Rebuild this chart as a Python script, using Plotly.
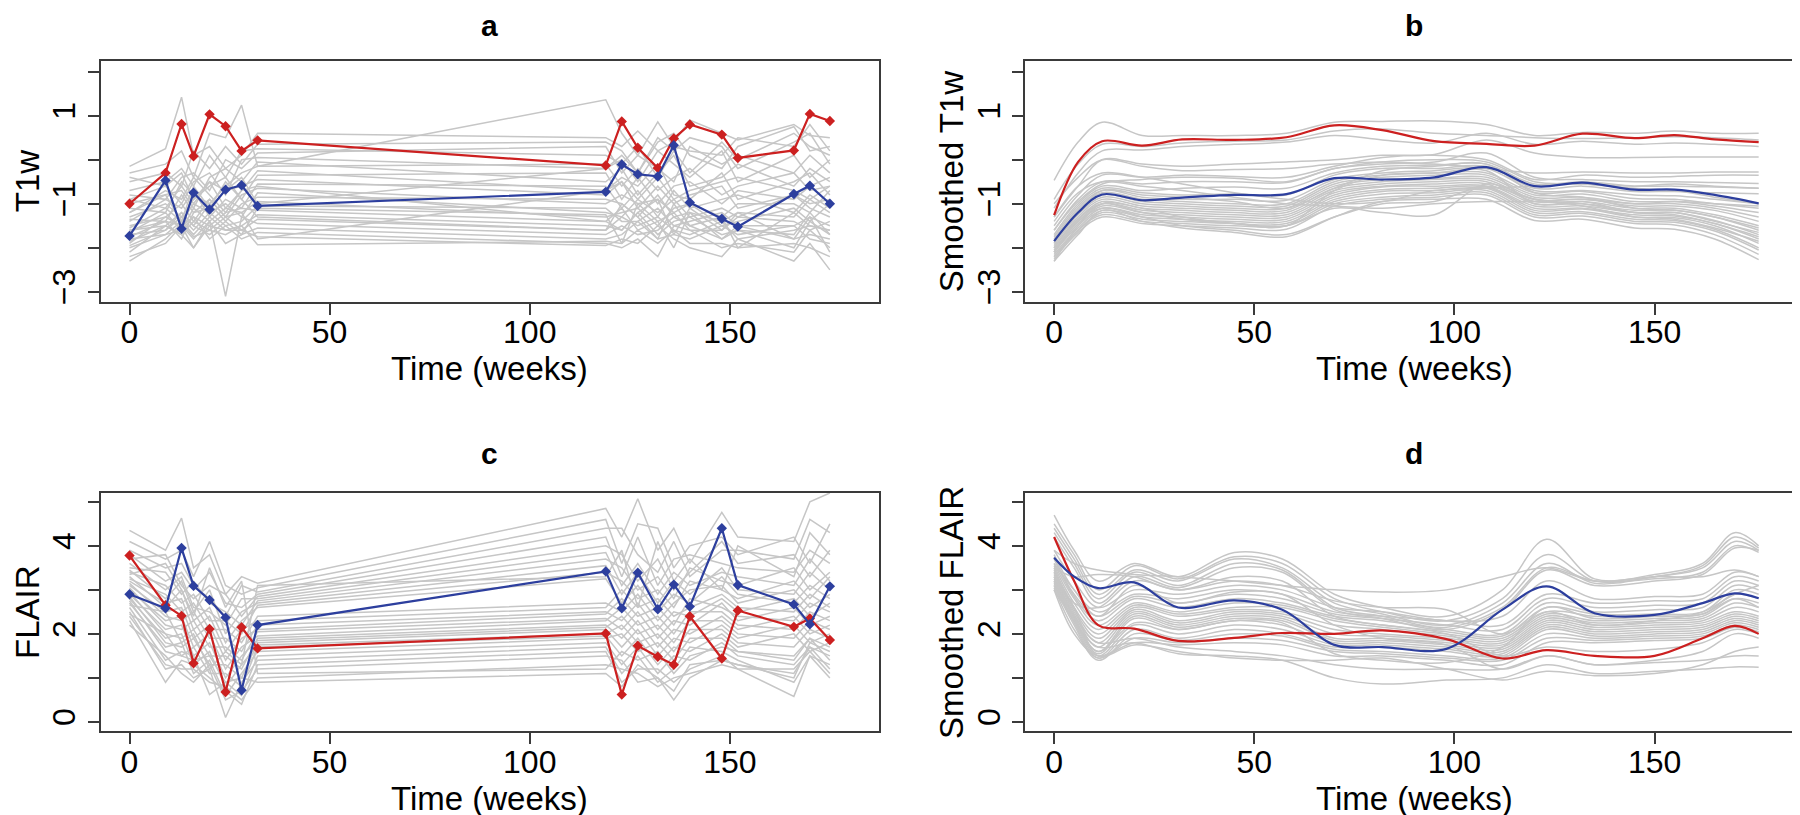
import plotly.graph_objects as go

# ---------------- data ----------------
weeks_raw = [0, 9, 13, 16, 20, 24, 28, 32, 119, 123, 127, 132, 136, 140, 148, 152, 166, 170, 175]

t1w_red = [-1.0, -0.30, 0.81, 0.08, 1.03, 0.76, 0.20, 0.44, -0.13, 0.87, 0.27, -0.19, 0.48, 0.80, 0.57, 0.04, 0.21, 1.04, 0.88]
t1w_blue = [-1.73, -0.47, -1.57, -0.75, -1.13, -0.68, -0.58, -1.05, -0.73, -0.11, -0.33, -0.38, 0.33, -0.97, -1.34, -1.52, -0.78, -0.59, -1.0]
t1w_gray = [
    [-0.15, 0.25, 1.42, 0.1, 0.3, -0.2, 0.1, 0.6, 0.5, 0.3, 0.65, 0.2, 0.4, 0.9, 0.6, 0.45, 0.8, 0.55, 0.5],
    [-0.3, -0.1, 0.2, -0.4, 0.6, 0.5, 1.24, -0.15, 1.36, 0.6, 0.1, 0.86, 0.3, 0.2, 0.1, 0.5, 0.3, 0.8, 0.2],
    [-0.5, -0.3, -0.6, 0.2, -0.2, 0.3, -0.1, 0.35, 0.4, 0.2, -0.3, 0.4, 0.6, 0.1, -0.2, 0.3, 0.75, 0.2, 0.3],
    [-0.7, -0.5, -0.2, -0.6, 0.1, -0.4, 0.2, 0.25, 0.1, -0.1, 0.3, -0.4, 0.2, 0.5, 0.3, -0.2, 0.4, 0.6, -0.1],
    [-0.8, -0.9, -0.4, -0.3, -0.7, 0.0, -0.2, 0.15, 0.3, -0.3, 0.1, -0.2, -0.5, 0.3, -0.1, 0.1, -0.3, 0.1, -0.3],
    [-0.9, -0.6, -1.0, -0.5, -0.3, -0.8, 0.0, 0.05, -0.2, 0.0, -0.5, 0.2, -0.1, -0.4, 0.2, -0.5, 0.1, -0.4, 0.0],
    [-1.0, -0.8, -0.7, -1.1, -0.4, -0.2, -0.5, -0.05, -0.5, -0.2, -0.8, -0.3, 0.1, -0.6, -0.4, -0.1, -0.6, -0.2, -0.5],
    [-1.1, -1.2, -0.5, -0.8, -1.0, -0.6, -0.3, -0.15, -0.1, -0.6, -0.2, -0.7, -0.4, -0.2, -0.8, -0.6, -0.3, -0.7, -0.6],
    [-1.2, -0.7, -0.9, -0.4, -0.8, -1.2, -0.7, -0.25, -0.7, -0.4, -0.6, -0.1, -0.8, -0.9, -0.3, -0.9, -0.5, -0.3, -0.8],
    [-1.3, -1.0, -1.3, -0.9, -0.6, -0.4, -0.9, -0.35, -0.3, -0.9, -0.4, -1.0, -0.6, -0.5, -1.0, -0.7, -0.9, -0.6, -0.4],
    [-1.35, -1.4, -0.8, -1.2, -1.1, -0.7, -0.6, -0.45, -0.8, -0.5, -1.1, -0.6, -1.0, -0.8, -0.6, -1.1, -0.8, -1.0, -0.9],
    [-1.4, -0.9, -1.1, -0.7, -1.3, -0.9, -1.1, -0.55, -0.6, -1.1, -0.7, -1.3, -0.7, -1.1, -0.9, -0.8, -1.2, -0.8, -1.1],
    [-1.5, -1.3, -1.0, -1.4, -0.9, -1.3, -0.8, -0.65, -1.0, -0.8, -1.0, -0.9, -1.2, -1.0, -1.3, -1.0, -1.0, -1.2, -0.7],
    [-1.55, -1.1, -1.4, -1.0, -1.2, -1.0, -1.3, -0.75, -1.2, -1.3, -0.9, -1.2, -0.9, -1.3, -1.1, -1.3, -0.8, -1.1, -1.3],
    [-1.6, -1.5, -1.2, -1.5, -1.0, -1.4, -1.0, -0.85, -0.9, -1.0, -1.3, -0.8, -1.3, -1.2, -1.4, -1.2, -1.3, -0.9, -1.2],
    [-1.65, -1.2, -1.6, -1.1, -1.4, -1.1, -1.2, -0.95, -1.3, -1.2, -1.1, -1.5, -1.1, -1.0, -1.5, -1.4, -1.1, -1.4, -1.0],
    [-1.7, -1.6, -1.3, -1.6, -1.2, -1.5, -1.4, -1.05, -1.1, -1.4, -1.4, -1.1, -1.5, -1.4, -1.2, -1.5, -1.5, -1.3, -1.5],
    [-1.75, -1.4, -1.5, -1.3, -1.5, -1.2, -1.1, -1.15, -1.4, -1.1, -1.6, -1.4, -1.2, -1.6, -1.6, -1.3, -1.4, -1.6, -1.4],
    [-1.8, -1.7, -1.4, -1.7, -1.3, -1.6, -1.5, -1.25, -1.5, -1.6, -1.2, -1.7, -1.4, -1.3, -1.7, -1.6, -1.7, -1.2, -1.7],
    [-1.85, -1.5, -1.7, -1.4, -1.6, -1.3, -1.6, -1.35, -1.6, -1.3, -1.5, -1.3, -1.6, -1.7, -1.4, -1.8, -1.6, -1.5, -1.6],
    [-1.9, -1.3, -1.5, -1.8, -1.4, -3.1, -1.3, -1.45, -1.7, -1.5, -1.7, -1.6, -1.3, -1.5, -1.8, -1.5, -1.8, -1.7, -1.8],
    [-1.95, -1.6, -1.2, -1.5, -1.7, -1.4, -1.7, -1.55, -1.8, -1.7, -1.4, -1.8, -1.7, -1.8, -1.5, -1.7, -1.5, -1.8, -1.9],
    [-2.0, -1.7, -1.6, -1.3, -1.8, -1.5, -1.8, -1.65, -1.9, -2.0, -1.8, -2.2, -1.5, -1.6, -2.0, -1.9, -2.1, -1.6, -2.0],
    [-2.1, -1.5, -1.7, -2.0, -1.5, -1.6, -1.6, -1.75, -1.95, -1.8, -1.9, -1.5, -1.8, -2.0, -2.2, -1.8, -2.3, -1.9, -2.5],
    [-2.3, -1.8, -1.45, -1.75, -1.6, -1.7, -1.5, -1.93, -1.85, -1.9, -1.6, -1.9, -1.6, -1.9, -1.9, -2.0, -1.9, -2.0, -2.2],
    [-0.4, -0.6, -0.3, -0.9, -0.5, -0.7, -0.4, -1.0, -0.2, 0.1, -0.3, 0.5, 0.2, -0.3, 0.4, 0.0, 0.6, 0.3, 0.1],
    [-1.2, -0.8, -1.4, -0.6, -1.1, -0.5, -0.9, -1.3, -1.6, -1.0, -1.3, -1.8, -1.0, -1.5, -1.3, -2.0, -1.2, -1.5, -1.6],
    [-0.9, -1.1, -0.6, -1.0, -0.5, -1.1, -0.7, -0.6, -1.4, -1.6, -1.2, -0.9, -1.7, -1.1, -1.6, -1.2, -1.8, -1.3, -2.1],
    [-1.6, -1.4, -1.8, -1.2, -0.9, -1.3, -1.2, -1.8, -0.7, -0.5, -0.9, -0.4, -0.9, -0.7, -0.5, -0.4, -0.7, -0.9, -0.6],
    [-2.2, -1.9, -1.5, -2.0, -1.4, -1.9, -1.7, -1.1, -1.25, -1.9, -1.0, -1.4, -2.0, -1.2, -1.8, -1.6, -2.0, -1.4, -1.7],
]

flair_red = [3.78, 2.65, 2.41, 1.33, 2.11, 0.68, 2.15, 1.67, 2.01, 0.62, 1.73, 1.48, 1.30, 2.40, 1.44, 2.53, 2.16, 2.35, 1.86]
flair_blue = [2.90, 2.58, 3.95, 3.09, 2.77, 2.37, 0.72, 2.20, 3.42, 2.58, 3.39, 2.56, 3.12, 2.62, 4.40, 3.11, 2.67, 2.22, 3.08]
flair_gray = [
    [4.35, 3.9, 4.63, 3.5, 3.8, 2.9, 3.3, 3.15, 4.85, 4.2, 5.07, 3.9, 4.4, 3.6, 4.76, 4.2, 4.1, 5.0, 5.2],
    [4.1, 3.7, 3.9, 3.3, 4.1, 3.1, 2.9, 3.05, 4.6, 3.6, 4.5, 4.4, 3.5, 4.0, 4.2, 3.8, 4.2, 3.6, 4.5],
    [3.9, 3.5, 3.6, 3.1, 2.8, 2.4, 3.1, 2.95, 4.4, 4.4, 3.8, 3.4, 4.1, 3.3, 3.9, 3.9, 3.7, 4.6, 4.3],
    [3.8, 3.2, 3.4, 3.0, 3.4, 2.7, 2.6, 2.9, 4.2, 3.3, 4.2, 3.1, 3.7, 3.8, 3.6, 3.5, 3.4, 3.9, 3.6],
    [3.7, 3.8, 3.1, 2.8, 3.1, 2.9, 2.4, 2.85, 4.0, 3.8, 3.2, 3.7, 3.0, 3.4, 4.1, 3.6, 3.8, 3.3, 3.9],
    [3.6, 3.0, 3.3, 2.6, 2.5, 2.2, 2.8, 2.8, 3.85, 3.1, 3.6, 2.9, 3.4, 3.1, 3.4, 3.3, 3.1, 3.7, 3.2],
    [3.5, 3.4, 2.9, 3.2, 2.7, 2.5, 2.2, 2.75, 3.7, 3.5, 3.0, 3.3, 2.8, 3.5, 3.2, 3.1, 3.5, 3.0, 3.4],
    [3.45, 2.8, 3.2, 2.5, 3.0, 2.0, 2.5, 2.7, 3.55, 2.9, 3.4, 2.7, 3.2, 2.9, 3.5, 3.0, 2.9, 3.4, 3.0],
    [3.4, 3.1, 2.7, 2.9, 2.3, 2.3, 2.0, 2.65, 3.4, 3.2, 2.8, 3.0, 2.6, 3.2, 3.0, 2.8, 3.2, 2.8, 3.3],
    [3.3, 2.6, 3.0, 2.3, 2.6, 1.8, 2.3, 2.6, 3.25, 2.7, 3.1, 2.5, 2.9, 2.7, 3.3, 2.9, 2.7, 3.1, 2.8],
    [3.25, 2.9, 2.5, 2.7, 2.1, 2.1, 1.8, 2.4, 2.7, 2.5, 2.9, 2.3, 2.7, 3.0, 3.1, 2.7, 3.0, 2.6, 2.9],
    [3.2, 2.7, 2.8, 2.1, 2.4, 1.6, 2.1, 2.3, 2.6, 3.0, 2.6, 2.8, 2.4, 2.6, 2.9, 2.6, 2.5, 2.9, 2.6],
    [3.15, 2.4, 2.3, 2.5, 1.9, 1.9, 1.6, 2.2, 2.5, 2.3, 2.7, 2.1, 2.5, 2.4, 2.8, 2.5, 2.8, 2.4, 2.7],
    [3.1, 2.5, 2.6, 1.9, 2.2, 1.4, 1.9, 2.1, 2.45, 2.8, 2.4, 2.6, 2.2, 2.8, 2.6, 2.4, 2.3, 2.7, 2.5],
    [3.05, 2.2, 2.1, 2.3, 1.7, 1.7, 1.4, 2.05, 2.35, 2.1, 2.5, 1.9, 2.3, 2.2, 2.7, 2.3, 2.6, 2.2, 2.4],
    [3.0, 2.3, 2.4, 1.7, 2.0, 1.2, 1.7, 1.95, 2.3, 2.6, 2.2, 2.4, 2.0, 2.5, 2.5, 2.2, 2.1, 2.5, 2.3],
    [2.95, 2.0, 1.9, 2.1, 1.5, 1.5, 1.2, 1.9, 2.2, 1.9, 2.3, 1.7, 2.1, 2.0, 2.4, 2.1, 2.4, 2.0, 2.2],
    [2.9, 2.1, 2.2, 1.5, 1.8, 1.0, 1.5, 1.85, 2.15, 2.4, 2.0, 2.2, 1.8, 2.3, 2.3, 2.0, 1.9, 2.3, 2.1],
    [2.85, 1.8, 1.7, 1.9, 1.3, 1.3, 1.0, 1.8, 2.1, 1.7, 2.1, 1.5, 1.9, 1.8, 2.2, 1.9, 2.2, 1.8, 2.0],
    [2.8, 1.9, 2.0, 1.3, 1.6, 0.8, 1.3, 1.75, 2.0, 2.2, 1.8, 2.0, 1.6, 2.1, 2.1, 1.8, 1.7, 2.1, 1.9],
    [2.75, 1.6, 1.5, 1.7, 1.1, 1.1, 0.8, 1.7, 1.95, 1.5, 1.9, 1.3, 1.7, 1.6, 2.0, 1.7, 2.0, 1.6, 1.8],
    [2.7, 1.7, 1.8, 1.1, 1.4, 0.6, 1.1, 1.6, 1.9, 2.0, 1.6, 1.8, 1.4, 1.9, 1.9, 1.6, 1.5, 1.9, 1.7],
    [2.6, 1.4, 1.6, 1.5, 0.62, 0.9, 0.6, 1.5, 1.8, 1.3, 1.7, 1.1, 1.5, 1.4, 1.8, 1.5, 1.3, 1.7, 1.5],
    [2.5, 1.2, 1.3, 1.0, 1.2, 0.1, 0.9, 1.4, 1.7, 1.1, 1.5, 0.9, 1.2, 1.7, 1.6, 1.4, 0.9, 1.5, 1.3],
    [2.3, 0.9, 1.4, 1.3, 1.0, 0.7, 0.4, 1.3, 1.6, 0.9, 1.2, 1.2, 0.9, 1.2, 1.5, 1.2, 0.58, 1.5, 1.0],
    [2.2, 1.5, 1.1, 0.9, 1.3, 0.5, 0.7, 1.2, 1.5, 1.4, 0.9, 1.0, 0.5, 1.0, 1.4, 1.3, 1.1, 1.7, 1.2],
    [2.4, 1.3, 1.2, 1.2, 0.9, 0.8, 0.5, 1.0, 1.3, 1.2, 1.1, 0.8, 1.0, 1.1, 1.3, 1.2, 1.2, 1.6, 1.1],
    [2.45, 2.0, 1.5, 1.4, 1.5, 0.9, 1.0, 0.9, 1.1, 0.8, 1.3, 1.0, 0.7, 1.3, 1.4, 1.3, 1.0, 1.8, 1.6],
    [3.35, 3.6, 3.0, 2.4, 3.5, 2.6, 3.2, 1.1, 1.2, 1.6, 1.4, 1.6, 1.1, 1.5, 1.7, 1.6, 1.4, 1.9, 1.4],
    [2.65, 2.5, 1.8, 2.0, 1.2, 1.6, 1.3, 3.1, 3.3, 3.9, 2.6, 4.1, 3.2, 3.7, 3.0, 4.0, 3.3, 4.3, 3.8],
]

weeks_smooth_t1w = [0, 6, 12, 22, 32, 45, 58, 70, 82, 95, 108, 120, 132, 145, 155, 165, 176]
st1w_red = [-1.26, -0.05, 0.42, 0.32, 0.46, 0.45, 0.51, 0.78, 0.67, 0.42, 0.36, 0.32, 0.59, 0.49, 0.56, 0.46, 0.40]
st1w_blue = [-1.85, -1.2, -0.79, -0.92, -0.86, -0.80, -0.78, -0.42, -0.45, -0.40, -0.17, -0.60, -0.52, -0.68, -0.68, -0.80, -0.99]
st1w_gray = [
    [-0.47, 0.4, 0.85, 0.55, 0.55, 0.55, 0.6, 0.85, 0.87, 0.88, 0.8, 0.55, 0.62, 0.6, 0.65, 0.6, 0.6],
    [-0.9, -0.1, 0.35, 0.3, 0.38, 0.42, 0.45, 0.65, 0.7, 0.6, 0.55, 0.5, 0.48, 0.5, 0.52, 0.5, 0.45],
    [-1.1, -0.3, 0.2, 0.22, 0.3, 0.35, 0.40, 0.55, 0.45, 0.38, 0.6, 0.35, 0.42, 0.35, 0.38, 0.35, 0.3],
    [-1.3, -0.6, 0.0, -0.1, -0.15, -0.1, -0.05, 0.0, 0.1, 0.12, 0.45, 0.15, 0.05, 0.05, 0.06, 0.06, 0.06],
    [-1.0, -0.4, 0.0, -0.15, -0.25, -0.22, -0.2, -0.1, -0.05, -0.1, -0.2, -0.3, -0.28, -0.3, -0.3, -0.28, -0.28],
    [-1.5, -0.8, -0.35, -0.4, -0.35, -0.38, -0.4, -0.15, 0.05, 0.1, 0.0, -0.45, -0.35, -0.4, -0.38, -0.35, -0.35],
    [-1.6, -0.9, -0.5, -0.55, -0.5, -0.5, -0.52, -0.2, -0.1, -0.05, 0.15, -0.4, -0.45, -0.5, -0.5, -0.52, -0.54],
    [-1.7, -1.0, -0.6, -0.7, -0.65, -0.62, -0.65, -0.3, -0.15, -0.12, -0.1, -0.55, -0.5, -0.6, -0.6, -0.62, -0.65],
    [-1.75, -1.05, -0.65, -0.75, -0.8, -0.78, -0.8, -0.35, -0.2, -0.2, -0.15, -0.65, -0.6, -0.72, -0.72, -0.75, -0.77],
    [-1.8, -1.1, -0.7, -0.85, -0.9, -0.9, -0.92, -0.45, -0.3, -0.25, -0.2, -0.7, -0.7, -0.8, -0.82, -0.9, -1.0],
    [-1.85, -1.15, -0.75, -0.9, -0.95, -1.0, -1.0, -0.5, -0.35, -0.3, -0.3, -0.75, -0.72, -0.88, -0.9, -1.0, -1.1],
    [-1.9, -1.2, -0.8, -0.95, -1.0, -1.05, -1.05, -0.55, -0.4, -0.35, -0.35, -0.8, -0.78, -0.95, -0.95, -1.05, -1.2],
    [-1.95, -1.25, -0.85, -1.0, -1.05, -1.1, -1.1, -0.6, -0.45, -0.42, -0.4, -0.85, -0.85, -1.0, -1.0, -1.1, -1.3],
    [-2.0, -1.3, -0.9, -1.05, -1.1, -1.15, -1.15, -0.65, -0.5, -0.45, -0.45, -0.9, -0.9, -1.05, -1.05, -1.15, -1.4],
    [-2.0, -1.35, -0.95, -1.1, -1.15, -1.2, -1.2, -0.7, -0.55, -0.5, -0.5, -0.95, -0.95, -1.1, -1.1, -1.25, -1.5],
    [-2.05, -1.4, -1.0, -1.15, -1.2, -1.25, -1.25, -0.75, -0.6, -0.55, -0.55, -1.0, -1.0, -1.15, -1.15, -1.3, -1.6],
    [-2.1, -1.45, -1.05, -1.2, -1.25, -1.3, -1.3, -0.8, -0.62, -0.6, -0.6, -1.05, -1.05, -1.2, -1.2, -1.38, -1.7],
    [-2.1, -1.5, -1.1, -1.25, -1.3, -1.35, -1.35, -0.85, -0.68, -0.65, -0.62, -1.1, -1.1, -1.25, -1.28, -1.45, -1.8],
    [-2.15, -1.55, -1.15, -1.3, -1.35, -1.4, -1.4, -0.9, -0.72, -0.7, -0.65, -1.15, -1.12, -1.3, -1.32, -1.5, -1.9],
    [-2.2, -1.6, -1.2, -1.35, -1.4, -1.45, -1.45, -0.95, -0.78, -0.75, -0.7, -1.2, -1.18, -1.35, -1.38, -1.58, -2.0],
    [-2.2, -1.6, -1.25, -1.4, -1.45, -1.5, -1.5, -1.0, -0.85, -0.8, -0.75, -1.25, -1.22, -1.4, -1.42, -1.62, -2.05],
    [-2.25, -1.65, -1.3, -1.45, -1.5, -1.55, -1.58, -1.05, -0.9, -0.85, -0.8, -1.3, -1.28, -1.45, -1.48, -1.7, -2.15],
    [-2.3, -1.7, -1.15, -1.4, -1.55, -1.65, -1.75, -1.3, -0.95, -0.9, -0.9, -1.38, -1.35, -1.55, -1.58, -1.8, -2.27],
    [-2.31, -1.5, -1.0, -1.1, -1.3, -1.45, -1.5, -1.1, -1.2, -1.25, -0.55, -0.9, -1.0, -1.2, -1.25, -1.45, -1.75],
    [-1.3, -0.6, -0.3, -0.4, -0.55, -0.75, -0.9, -1.0, -0.95, -0.7, -0.65, -0.6, -0.55, -0.6, -0.55, -0.6, -0.65],
    [-1.4, -0.75, -0.5, -0.6, -0.7, -0.85, -1.0, -1.05, -1.1, -1.0, -0.95, -0.95, -0.9, -1.0, -0.95, -1.0, -1.05],
    [-2.1, -1.4, -1.1, -1.3, -1.5, -1.6, -1.7, -1.3, -1.0, -0.95, -0.6, -0.9, -1.05, -1.3, -1.35, -1.55, -1.85],
    [-1.6, -0.95, -0.55, -0.45, -0.4, -0.42, -0.5, -0.2, -0.05, 0.0, -0.05, -0.5, -0.55, -0.65, -0.7, -0.85, -1.0],
    [-1.9, -1.2, -0.7, -0.8, -0.85, -0.95, -1.1, -0.65, -0.25, -0.15, -0.1, -0.75, -0.85, -1.1, -1.15, -1.3, -1.55],
    [-2.0, -1.35, -1.0, -1.2, -1.35, -1.45, -1.5, -0.7, -0.35, -0.3, -0.25, -1.0, -0.95, -1.2, -1.2, -1.4, -1.65],
]

weeks_smooth_flair = [0, 5, 11, 20, 31, 45, 57, 70, 82, 98, 112, 123, 135, 150, 162, 170, 176]
sflair_red = [4.2, 3.2, 2.2, 2.12, 1.84, 1.91, 2.02, 2.0, 2.08, 1.88, 1.44, 1.63, 1.50, 1.50, 1.9, 2.18, 2.0]
sflair_blue = [3.73, 3.3, 3.04, 3.17, 2.6, 2.76, 2.55, 1.75, 1.70, 1.66, 2.55, 3.08, 2.47, 2.43, 2.7, 2.92, 2.81]
sflair_gray = [
    [4.7, 3.9, 3.2, 3.6, 3.3, 3.85, 3.7, 2.9, 2.6, 2.4, 3.0, 4.15, 3.25, 3.35, 3.6, 4.3, 4.0],
    [4.5, 3.8, 3.0, 3.55, 3.25, 3.75, 3.6, 2.8, 2.5, 2.3, 2.8, 3.8, 3.2, 3.3, 3.55, 4.2, 3.95],
    [4.4, 3.7, 2.9, 3.45, 3.2, 3.7, 3.5, 2.7, 2.45, 2.2, 2.7, 3.6, 3.15, 3.3, 3.5, 4.1, 3.9],
    [4.3, 3.6, 2.8, 3.4, 3.1, 3.6, 3.45, 2.6, 2.4, 2.15, 2.6, 3.5, 3.2, 3.25, 3.4, 4.0, 3.85],
    [4.2, 3.5, 2.7, 3.3, 3.05, 3.5, 3.4, 2.55, 2.35, 2.1, 2.55, 3.45, 3.1, 3.2, 3.35, 3.95, 3.9],
    [3.9, 3.6, 3.45, 3.35, 3.3, 3.2, 3.1, 3.0, 2.95, 3.0, 3.3, 3.5, 3.2, 3.3, 3.3, 3.45, 3.3],
    [3.9, 3.2, 2.6, 3.0, 2.9, 3.1, 3.0, 2.6, 2.5, 2.3, 2.4, 3.2, 2.8, 2.85, 2.9, 3.4, 3.3],
    [3.8, 3.0, 2.5, 2.9, 2.8, 3.0, 2.9, 2.5, 2.4, 2.3, 2.2, 2.9, 2.7, 2.75, 2.8, 3.3, 3.2],
    [3.75, 2.9, 2.4, 2.85, 2.7, 2.9, 2.8, 2.45, 2.35, 2.2, 2.1, 2.8, 2.6, 2.65, 2.7, 3.2, 3.1],
    [3.7, 2.85, 2.3, 2.8, 2.6, 2.8, 2.7, 2.4, 2.3, 2.1, 2.0, 2.7, 2.5, 2.55, 2.6, 3.1, 3.0],
    [3.6, 2.8, 2.2, 2.7, 2.5, 2.7, 2.65, 2.35, 2.2, 2.05, 1.95, 2.6, 2.45, 2.45, 2.5, 3.0, 2.9],
    [3.55, 2.7, 2.1, 2.65, 2.45, 2.6, 2.6, 2.3, 2.15, 2.0, 1.9, 2.5, 2.4, 2.4, 2.45, 2.9, 2.8],
    [3.5, 2.6, 2.0, 2.6, 2.4, 2.55, 2.5, 2.2, 2.1, 1.95, 1.85, 2.45, 2.3, 2.35, 2.4, 2.8, 2.7],
    [3.45, 2.55, 1.9, 2.55, 2.3, 2.5, 2.45, 2.1, 2.0, 1.9, 1.8, 2.4, 2.25, 2.3, 2.35, 2.7, 2.6],
    [3.4, 2.5, 1.8, 2.5, 2.25, 2.45, 2.4, 2.0, 1.95, 1.85, 1.75, 2.35, 2.2, 2.25, 2.3, 2.6, 2.5],
    [3.35, 2.45, 1.7, 2.45, 2.2, 2.4, 2.35, 1.9, 1.9, 1.8, 1.7, 2.3, 2.15, 2.2, 2.25, 2.5, 2.4],
    [3.3, 2.4, 1.6, 2.4, 2.15, 2.35, 2.3, 1.85, 1.85, 1.75, 1.65, 2.25, 2.1, 2.15, 2.2, 2.45, 2.35],
    [3.25, 2.35, 1.55, 2.35, 2.1, 2.3, 2.2, 1.8, 1.8, 1.7, 1.6, 2.2, 2.05, 2.1, 2.15, 2.4, 2.3],
    [3.2, 2.3, 1.5, 2.2, 2.0, 2.2, 2.1, 1.75, 1.75, 1.65, 1.55, 2.15, 2.0, 2.05, 2.1, 2.35, 2.25],
    [3.15, 2.25, 1.45, 2.1, 1.9, 2.1, 2.0, 1.7, 1.7, 1.6, 1.5, 2.1, 1.95, 2.0, 2.05, 2.3, 2.2],
    [3.1, 2.2, 1.4, 2.0, 1.85, 2.0, 1.95, 1.65, 1.6, 1.5, 1.45, 2.0, 1.9, 1.95, 2.0, 2.25, 2.15],
    [3.05, 2.1, 1.45, 1.9, 1.8, 1.9, 1.85, 1.6, 1.55, 1.45, 1.4, 1.9, 1.85, 1.9, 1.95, 2.2, 2.1],
    [3.0, 2.0, 1.5, 1.8, 1.75, 1.8, 1.75, 1.5, 1.5, 1.4, 1.3, 1.8, 1.8, 1.85, 1.9, 2.15, 2.05],
    [3.2, 2.4, 1.8, 1.9, 1.7, 1.6, 1.5, 1.3, 1.2, 1.2, 1.2, 1.5, 1.3, 1.35, 1.4, 1.5, 1.5],
    [3.1, 2.3, 1.7, 1.8, 1.55, 1.5, 1.4, 1.0, 0.86, 0.95, 1.0, 1.3, 1.1, 1.15, 1.2, 1.25, 1.24],
    [3.4, 2.6, 1.5, 1.75, 1.6, 1.45, 1.4, 1.4, 1.45, 1.2, 0.95, 1.15, 1.05, 1.1, 1.3, 1.6, 1.7],
    [3.5, 3.3, 3.35, 3.3, 3.0, 3.3, 3.2, 2.4, 2.2, 2.0, 1.5, 1.7, 1.6, 1.65, 1.8, 2.1, 2.0],
    [3.6, 3.0, 2.4, 3.1, 2.7, 2.95, 2.9, 2.2, 1.9, 1.75, 1.2, 1.5, 1.3, 1.4, 1.6, 2.0, 1.9],
    [3.3, 2.7, 2.6, 3.2, 3.0, 3.2, 3.1, 2.75, 2.6, 2.55, 2.0, 2.5, 2.2, 2.3, 2.5, 2.9, 3.1],
    [3.0, 2.3, 1.6, 2.25, 2.1, 2.3, 2.25, 1.55, 1.4, 1.35, 1.7, 2.6, 2.35, 2.4, 2.45, 2.8, 2.6],
]

x_ticks = [0, 50, 100, 150]
t1w_ticks = [-3, -2, -1, 0, 1, 2]
t1w_ticktext = ["\u22123", "", "\u22121", "", "1", ""]
flair_ticks = [0, 1, 2, 3, 4, 5]
flair_ticktext = ["0", "", "2", "", "4", ""]

# ---------------- styling ----------------
W, H = 1800, 815
FONT = "Liberation Sans, Arial, Helvetica, sans-serif"
GRAY = "#c6c6c6"
RED = "#cc2020"
BLUE = "#2d3f9e"
AX = "#3a3a3a"


def px_x(v):
    return v / W


def px_y(v):
    return 1 - v / H


fig = go.Figure()

panels = [
    ("x", "y", weeks_raw, t1w_gray, t1w_red, t1w_blue, True),
    ("x2", "y2", weeks_smooth_t1w, st1w_gray, st1w_red, st1w_blue, False),
    ("x3", "y3", weeks_raw, flair_gray, flair_red, flair_blue, True),
    ("x4", "y4", weeks_smooth_flair, sflair_gray, sflair_red, sflair_blue, False),
]

for xa, ya, wk, gray, red, blue, raw in panels:
    shape = "linear" if raw else "spline"
    for g in gray:
        fig.add_trace(go.Scatter(x=wk, y=g, mode="lines", xaxis=xa, yaxis=ya,
                                 line=dict(color=GRAY, width=1.5, shape=shape),
                                 hoverinfo="skip", showlegend=False))
    for series, col in ((red, RED), (blue, BLUE)):
        fig.add_trace(go.Scatter(x=wk, y=series, mode="lines+markers" if raw else "lines",
                                 xaxis=xa, yaxis=ya,
                                 line=dict(color=col, width=2.2, shape=shape),
                                 marker=dict(symbol="diamond", size=8, color=col),
                                 hoverinfo="skip", showlegend=False))

left_dom = [px_x(92.7), px_x(870.7)]
right_dom = [px_x(1017.3), px_x(1795.5)]
top_dom = [px_y(295), px_y(53.3)]
bot_dom = [px_y(726.7), px_y(487)]

TICKFONT = dict(family=FONT, size=32, color="black")
xcommon = dict(range=[-7.2, 187.2], tickvals=x_ticks, ticks="outside", ticklen=11,
               tickwidth=2, tickcolor=AX, showline=True, mirror=True, linecolor=AX,
               linewidth=2, showgrid=False, zeroline=False, ticklabelstandoff=-10,
               tickfont=TICKFONT)
ycommon = dict(ticks="outside", ticklen=11, tickwidth=2, tickcolor=AX, showline=True,
               mirror=True, linecolor=AX, linewidth=2, showgrid=False, zeroline=False,
               tickangle=-90, tickfont=TICKFONT)

fig.update_layout(
    width=W, height=H, margin=dict(l=0, r=0, t=0, b=0),
    paper_bgcolor="white", plot_bgcolor="white", showlegend=False, hovermode=False,
    xaxis=dict(domain=left_dom, anchor="y", **xcommon),
    xaxis2=dict(domain=right_dom, anchor="y2", **xcommon),
    xaxis3=dict(domain=left_dom, anchor="y3", **xcommon),
    xaxis4=dict(domain=right_dom, anchor="y4", **xcommon),
    yaxis=dict(domain=top_dom, anchor="x", range=[-3.22, 2.24], tickvals=t1w_ticks,
               ticktext=t1w_ticktext, **ycommon),
    yaxis2=dict(domain=top_dom, anchor="x2", range=[-3.22, 2.24], tickvals=t1w_ticks,
                ticktext=t1w_ticktext, **ycommon),
    yaxis3=dict(domain=bot_dom, anchor="x3", range=[-0.21, 5.21], tickvals=flair_ticks,
                ticktext=flair_ticktext, **ycommon),
    yaxis4=dict(domain=bot_dom, anchor="x4", range=[-0.21, 5.21], tickvals=flair_ticks,
                ticktext=flair_ticktext, **ycommon),
)

ann = []
# panel letters
for txt, xc, ytop in (("a", 481.7, 0), ("b", 1406.4, 0), ("c", 481.7, 430), ("d", 1406.4, 430)):
    ann.append(dict(text="<b>%s</b>" % txt, x=px_x(xc), y=px_y(ytop), xref="paper", yref="paper",
                    xanchor="center", yanchor="top", showarrow=False, borderpad=0,
                    font=dict(family=FONT, size=30, color="black")))
# x-axis titles
for xc, yc in ((481.7, 362), (1406.4, 362), (481.7, 794), (1406.4, 794)):
    ann.append(dict(text="Time (weeks)", x=px_x(xc), y=px_y(yc), xref="paper", yref="paper",
                    xanchor="center", yanchor="middle", showarrow=False, borderpad=0,
                    font=dict(family=FONT, size=33, color="black")))
# y-axis titles
for txt, xc, yc in (("T1w", 19, 174), ("Smoothed T1w", 943, 174),
                    ("FLAIR", 19, 607), ("Smoothed FLAIR", 943, 607)):
    ann.append(dict(text=txt, x=px_x(xc), y=px_y(yc), xref="paper", yref="paper",
                    xanchor="center", yanchor="middle", textangle=-90, showarrow=False,
                    borderpad=0, font=dict(family=FONT, size=33, color="black")))
fig.update_layout(annotations=ann)

fig.write_html("out.html")
